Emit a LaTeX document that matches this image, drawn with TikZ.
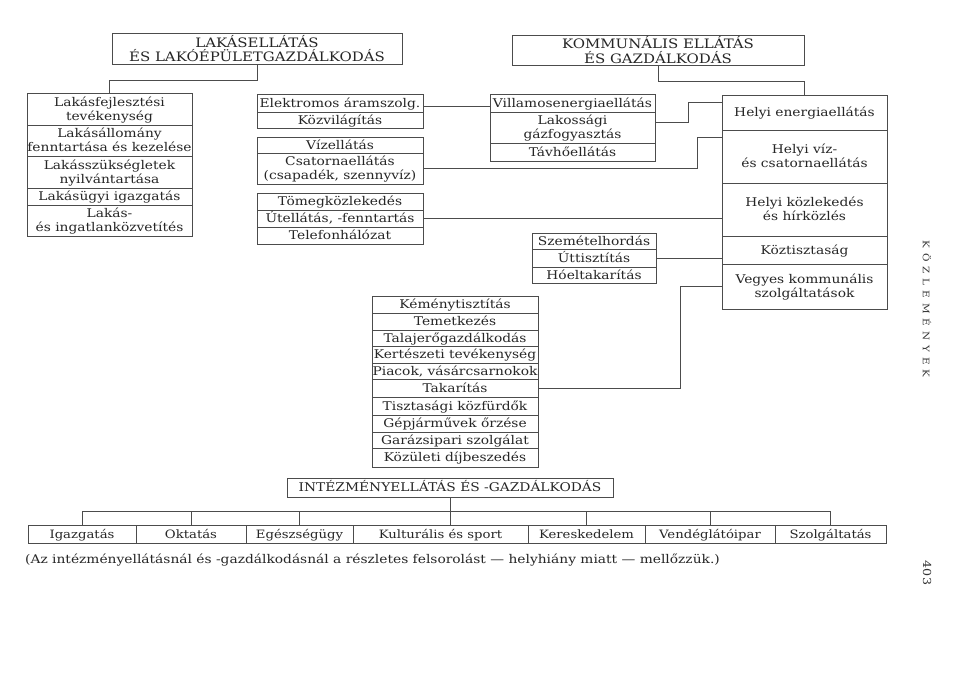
\documentclass[tikz,border=0pt]{standalone}
\usepackage{fontspec}
\setmainfont[FakeStretch=1.15]{DejaVu Serif}
\newcommand\cellstrut{\rule[-3pt]{0pt}{14pt}}
\newcommand\cellat[6]{%
  \pgfmathsetmacro\cellW{#4-#2}%
  \pgfmathsetmacro\cellH{#5-#3}%
  \node[cellbox,minimum width=\cellW pt,minimum height=\cellH pt] (#1) at ({(#2+#4)/2},{(#3+#5)/2}) {\cellstrut#6\cellstrut};}
\tikzset{
  cellbox/.style={draw=black!70,line width=0.6pt,inner sep=0pt,align=center,text=black!85,
    font=\fontsize{12}{14}\selectfont},
  headbox/.style={cellbox,font=\fontsize{13}{14.5}\selectfont},
  conn/.style={draw=black!70,line width=0.6pt},
}
\begin{document}
\begin{tikzpicture}[x=1pt,y=-1pt]
\useasboundingbox[fill=white] (0,0) rectangle (960,691);
% headers
\node[headbox,minimum width=290pt,minimum height=31pt] (h1) at (257,48.5) {LAKÁSELLÁTÁS\\ÉS LAKÓÉPÜLETGAZDÁLKODÁS};
\node[headbox,minimum width=292pt,minimum height=30pt] (h2) at (658,50) {KOMMUNÁLIS ELLÁTÁS\\ÉS GAZDÁLKODÁS};
\node[headbox,font=\fontsize{12}{14}\selectfont,minimum width=326pt,minimum height=19pt] (h3) at (450,487.5) {\cellstrut INTÉZMÉNYELLÁTÁS ÉS -GAZDÁLKODÁS};
% left column
\cellat{l1}{27}{93}{192}{125}{Lakásfejlesztési\\tevékenység}
\cellat{l2}{27}{125}{192}{156}{Lakásállomány\\fenntartása és kezelése}
\cellat{l3}{27}{156}{192}{188}{Lakásszükségletek\\nyilvántartása}
\cellat{l4}{27}{188}{192}{205}{Lakásügyi igazgatás}
\cellat{l5}{27}{205}{192}{236}{Lakás-\\és ingatlanközvetítés}
% second column
\cellat{e1}{257}{94}{423}{112}{Elektromos áramszolg.}
\cellat{e2}{257}{112}{423}{128}{Közvilágítás}
\cellat{w1}{257}{137}{423}{153}{Vízellátás}
\cellat{w2}{257}{153}{423}{184}{Csatornaellátás\\(csapadék, szennyvíz)}
\cellat{t1}{257}{193}{423}{210}{Tömegközlekedés}
\cellat{t2}{257}{210}{423}{227}{Útellátás, -fenntartás}
\cellat{t3}{257}{227}{423}{244}{Telefonhálózat}
% third column
\cellat{v1}{490}{94}{655}{112}{Villamosenergiaellátás}
\cellat{v2}{490}{112}{655}{143}{Lakossági\\gázfogyasztás}
\cellat{v3}{490}{143}{655}{161}{Távhőellátás}
\cellat{s1}{532}{233}{656}{249}{Szemételhordás}
\cellat{s2}{532}{249}{656}{267}{Úttisztítás}
\cellat{s3}{532}{267}{656}{283}{Hóeltakarítás}
% Kemeny box
\cellat{k1}{372}{296}{538}{313}{Kéménytisztítás}
\cellat{k2}{372}{313}{538}{330}{Temetkezés}
\cellat{k3}{372}{330}{538}{346}{Talajerőgazdálkodás}
\cellat{k4}{372}{346}{538}{363}{Kertészeti tevékenység}
\cellat{k5}{372}{363}{538}{379}{Piacok, vásárcsarnokok}
\cellat{k6}{372}{379}{538}{397}{Takarítás}
\cellat{k7}{372}{397}{538}{415}{Tisztasági közfürdők}
\cellat{k8}{372}{415}{538}{432}{Gépjárművek őrzése}
\cellat{k9}{372}{432}{538}{448}{Garázsipari szolgálat}
\cellat{k10}{372}{448}{538}{467}{Közületi díjbeszedés}
% right column
\cellat{r1}{722}{95}{887}{130}{Helyi energiaellátás}
\cellat{r2}{722}{130}{887}{183}{Helyi víz-\\és csatornaellátás}
\cellat{r3}{722}{183}{887}{236}{Helyi közlekedés\\és hírközlés}
\cellat{r4}{722}{236}{887}{264}{Köztisztaság}
\cellat{r5}{722}{264}{887}{309}{Vegyes kommunális\\szolgáltatások}
% bottom row
\tikzset{cellbox/.append style={font=\fontsize{11.5}{13}\selectfont}}
\cellat{b1}{28}{525}{136}{543}{Igazgatás}
\cellat{b2}{136}{525}{246}{543}{Oktatás}
\cellat{b3}{246}{525}{353}{543}{Egészségügy}
\cellat{b4}{353}{525}{528}{543}{Kulturális és sport}
\cellat{b5}{528}{525}{645}{543}{Kereskedelem}
\cellat{b6}{645}{525}{775}{543}{Vendéglátóipar}
\cellat{b7}{775}{525}{886}{543}{Szolgáltatás}
% connectors
\draw[conn] (h1.south) -- ++(0,16) -| (l1.north);
\draw[conn] (h2.south) -- ++(0,16) -| (r1.north);
\draw[conn] ([yshift=-3pt]e1.east) -- ([yshift=-3pt]e1.east -| v1.west);
\draw[conn] ([yshift=5pt]v2.east) -- ++(33,0) |- ([yshift=10.5pt]r1.west);
\draw[conn] (w2.east) -- ++(274,0) |- ([yshift=19.5pt]r2.west);
\draw[conn] (t2.east) -- (t2.east -| r3.west);
\draw[conn] (s2.east) -- (s2.east -| r4.west);
\draw[conn] (k6.east) -- ++(142,0) |- (r5.west);
\draw[conn] (h3.south) -- (h3.south |- b4.north);
\draw[conn] ([yshift=13pt]b1.north) -- ([yshift=13pt]b7.north);
\foreach \n in {b1,b2,b3,b5,b6,b7} \draw[conn] (\n.north) -- ++(0,-13);
% footnote and margin
\node[anchor=west,inner sep=0pt,text=black!85,font=\fontsize{12}{14}\selectfont] (fn) at (25,560) {(Az intézményellátásnál és -gazdálkodásnál a részletes felsorolást — helyhiány miatt — mellőzzük.)};
\node[rotate=-90,inner sep=0pt,text=black!80,font=\fontsize{9}{10}\selectfont] (side) at (927,309) {K\hspace{5pt}Ö\hspace{5pt}Z\hspace{5pt}L\hspace{5pt}E\hspace{5pt}M\hspace{5pt}É\hspace{5pt}N\hspace{5pt}Y\hspace{5pt}E\hspace{5pt}K};
\node[rotate=-90,inner sep=0pt,text=black!80,font=\fontsize{11}{13}\selectfont] (pg) at (927,573) {403};
\end{tikzpicture}
\end{document}
